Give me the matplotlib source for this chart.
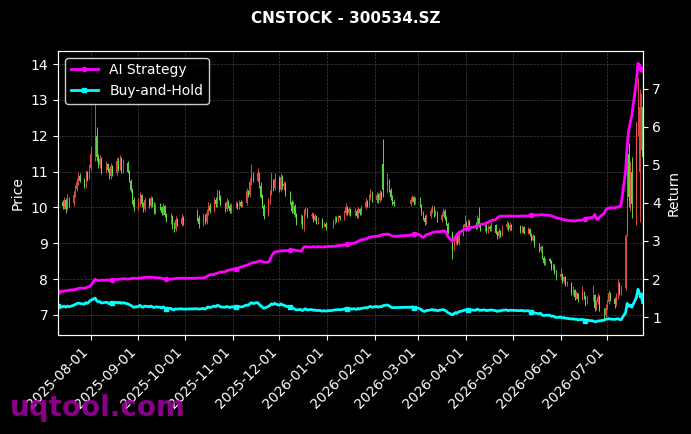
import numpy as np
import pandas as pd
import matplotlib
matplotlib.use('Agg')
import matplotlib.pyplot as plt
import matplotlib.dates as mdates

title = "CNSTOCK - 300534.SZ"

# exchange closures inside the window
closed_days = ['2025-10-01', '2025-10-02', '2025-10-03', '2025-10-06', '2025-10-07', '2025-10-08',
               '2026-01-01', '2026-01-02',
               '2026-02-16', '2026-02-17', '2026-02-18', '2026-02-19', '2026-02-20', '2026-02-23',
               '2026-04-06', '2026-05-01', '2026-05-04', '2026-05-05', '2026-06-19']

dates = pd.bdate_range('2025-07-11', '2026-07-24')
dates = dates[~dates.isin(pd.to_datetime(closed_days))]

opens = [
    10.05, 10.15, 10.02, 10.20, 9.98, 10.25, 10.12, 10.33, 10.52, 10.68, 10.88, 10.76, 10.62, 10.96, 10.82,  # 2025-07
    11.10, 11.45, 12.00, 11.40, 11.18, 11.35, 11.00, 11.20, 11.05, 10.88, 11.15, 10.95, 11.30, 11.10, 11.35, 11.00, 11.25, 11.00, 10.75, 10.50, 10.20,  # 08
    10.00, 10.15, 10.35, 10.10, 9.95, 10.20, 10.05, 10.25, 10.10, 9.90, 10.05, 10.00, 9.85, 10.05, 9.80, 9.65, 9.75, 9.52, 9.40, 9.65, 9.55, 9.70,  # 09
    9.85, 9.70, 9.52, 9.75, 9.60, 9.85, 10.05, 9.92, 10.20, 10.10, 10.40, 10.30, 10.10, 9.95, 10.15, 10.05, 9.90,  # 10
    10.02, 10.10, 10.00, 10.15, 10.05, 10.12, 10.45, 10.35, 10.70, 10.90, 10.75, 10.95, 10.60, 10.30, 10.05, 9.78, 10.15, 10.40, 10.70, 10.55,  # 11
    10.80, 10.50, 10.85, 10.60, 10.65, 10.40, 10.15, 9.90, 10.05, 9.80, 9.60, 9.75, 9.50, 9.85, 9.95, 9.75, 9.80, 9.65, 9.75, 9.60, 9.65, 9.50, 9.55,  # 12
    9.45, 9.60, 9.70, 9.65, 9.75, 9.70, 9.85, 10.00, 9.85, 9.95, 9.80, 9.90, 9.75, 9.95, 9.85, 10.00, 10.15, 10.05, 10.30, 10.40,  # 2026-01
    10.20, 10.35, 10.20, 10.40, 11.20, 10.50, 10.75, 10.50, 10.30, 10.15, 10.10, 10.20, 10.30, 10.15,  # 02
    10.25, 10.05, 9.85, 9.70, 9.60, 9.75, 9.90, 10.00, 9.80, 9.85, 9.65, 9.80, 9.90, 9.70, 9.55, 9.30, 8.85, 9.05, 9.20, 9.00, 9.25, 9.45,  # 03
    9.55, 9.40, 9.60, 9.50, 9.45, 9.70, 9.50, 9.40, 9.50, 9.35, 9.45, 9.40, 9.50, 9.30, 9.20, 9.35, 9.25, 9.45, 9.55, 9.40, 9.50,  # 04
    9.45, 9.35, 9.45, 9.30, 9.40, 9.25, 9.10, 9.20, 8.95, 8.80, 8.90, 8.60, 8.45, 8.55, 8.50, 8.30, 8.40, 8.20,  # 05
    8.05, 8.15, 7.95, 8.05, 7.85, 7.90, 7.60, 7.70, 7.50, 7.60, 7.45, 7.65, 7.50, 7.35, 7.45, 7.55, 7.20, 7.35, 7.50, 7.15, 7.00,  # 06
    7.20, 7.35, 7.60, 7.45, 7.30, 7.50, 7.90, 7.60, 7.75, 9.30, 11.50, 10.20, 11.00, 10.20, 12.20, 11.00, 12.50, 12.80,  # 07
]
highs = [
    10.28, 10.22, 10.30, 10.25, 10.38, 10.30, 10.45, 10.62, 10.82, 11.00, 10.95, 10.82, 11.05, 11.02, 11.22,
    11.70, 12.95, 12.25, 11.50, 11.45, 11.40, 11.30, 11.25, 11.10, 11.25, 11.18, 11.42, 11.38, 11.45, 11.40, 11.35, 11.30, 11.05, 10.80, 10.55, 10.28,
    10.25, 10.42, 10.38, 10.15, 10.28, 10.25, 10.32, 10.28, 10.15, 10.12, 10.12, 10.05, 10.12, 10.08, 9.85, 9.85, 9.80, 9.58, 9.75, 9.70, 9.82, 9.75,
    9.95, 9.78, 9.85, 9.82, 9.95, 10.15, 10.12, 10.30, 10.28, 10.52, 10.48, 10.35, 10.15, 10.25, 10.20, 10.10, 10.12,
    10.18, 10.15, 10.22, 10.20, 10.18, 10.55, 10.50, 10.82, 11.20, 10.98, 11.10, 11.00, 10.70, 10.38, 10.10, 10.25, 10.50, 11.00, 10.78, 10.95,
    10.88, 10.95, 10.90, 10.75, 10.70, 10.45, 10.22, 10.18, 10.10, 9.85, 9.82, 9.80, 9.95, 10.02, 9.98, 9.88, 9.85, 9.82, 9.80, 9.72, 9.70, 9.60, 9.60,
    9.68, 9.75, 9.75, 9.80, 9.80, 9.92, 10.12, 10.05, 10.02, 9.98, 9.98, 9.95, 10.02, 9.98, 10.08, 10.25, 10.20, 10.38, 10.52, 10.45,
    10.42, 10.40, 10.48, 10.45, 11.90, 10.95, 10.80, 10.55, 10.35, 10.20, 10.28, 10.35, 10.32, 10.30,
    10.30, 10.10, 9.90, 9.78, 9.82, 9.98, 10.08, 10.05, 9.92, 9.90, 9.88, 9.98, 9.95, 9.75, 9.60, 9.35, 9.15, 9.30, 9.25, 9.32, 9.55, 9.80,
    9.62, 9.68, 9.65, 9.58, 9.78, 10.00, 9.55, 9.58, 9.55, 9.52, 9.50, 9.58, 9.55, 9.35, 9.42, 9.38, 9.52, 9.62, 9.60, 9.58, 9.55,
    9.52, 9.50, 9.48, 9.45, 9.42, 9.28, 9.25, 9.22, 9.00, 8.95, 8.92, 8.65, 8.60, 8.60, 8.52, 8.45, 8.42, 8.25,
    8.30, 8.18, 8.10, 8.08, 7.95, 7.92, 7.80, 7.72, 7.68, 7.62, 7.80, 7.68, 7.55, 7.52, 7.85, 7.58, 7.42, 7.60, 7.55, 7.20, 7.30,
    7.45, 7.70, 7.65, 7.50, 7.60, 8.00, 7.92, 7.85, 9.25, 11.55, 11.80, 11.30, 11.40, 12.40, 13.60, 13.30, 13.20, 12.90,
]
lows = [
    9.98, 9.95, 9.95, 9.85, 9.92, 10.02, 10.05, 10.28, 10.45, 10.62, 10.70, 10.55, 10.55, 10.75, 10.78,
    11.05, 11.30, 11.30, 11.10, 11.10, 10.92, 10.95, 10.98, 10.78, 10.80, 10.88, 10.90, 11.02, 11.05, 10.95, 10.95, 10.95, 10.70, 10.42, 10.10, 9.90,
    9.92, 10.05, 10.02, 9.88, 9.90, 9.98, 9.98, 10.02, 9.82, 9.82, 9.92, 9.78, 9.80, 9.72, 9.58, 9.55, 9.40, 9.32, 9.35, 9.48, 9.48, 9.52,
    9.62, 9.42, 9.48, 9.55, 9.55, 9.80, 9.85, 9.88, 10.02, 10.02, 10.22, 10.05, 9.88, 9.90, 9.98, 9.85, 9.85,
    9.98, 9.95, 9.95, 10.00, 10.00, 10.08, 10.28, 10.30, 10.62, 10.70, 10.70, 10.55, 10.25, 9.98, 9.68, 9.75, 10.10, 10.35, 10.45, 10.48,
    10.42, 10.45, 10.52, 10.50, 10.32, 10.10, 9.85, 9.85, 9.72, 9.52, 9.55, 9.40, 9.35, 9.80, 9.70, 9.70, 9.58, 9.62, 9.55, 9.55, 9.42, 9.45, 9.38,
    9.42, 9.55, 9.60, 9.60, 9.65, 9.65, 9.80, 9.80, 9.80, 9.75, 9.75, 9.70, 9.70, 9.80, 9.80, 9.95, 10.00, 10.00, 10.22, 10.15,
    10.12, 10.12, 10.15, 10.22, 10.30, 10.42, 10.42, 10.22, 10.08, 10.05, 10.05, 10.15, 10.08, 10.10,
    10.00, 9.80, 9.65, 9.50, 9.55, 9.70, 9.85, 9.72, 9.75, 9.58, 9.60, 9.75, 9.65, 9.50, 9.25, 8.55, 8.80, 8.98, 8.95, 8.95, 9.20, 9.40,
    9.35, 9.35, 9.45, 9.40, 9.40, 9.45, 9.35, 9.35, 9.30, 9.30, 9.35, 9.35, 9.25, 9.12, 9.15, 9.18, 9.20, 9.40, 9.35, 9.35, 9.38,
    9.30, 9.30, 9.25, 9.25, 9.20, 9.05, 9.05, 8.90, 8.75, 8.75, 8.55, 8.40, 8.40, 8.45, 8.25, 8.25, 8.15, 7.98,
    8.00, 7.90, 7.90, 7.80, 7.80, 7.55, 7.55, 7.42, 7.45, 7.35, 7.42, 7.45, 7.25, 7.30, 7.40, 7.10, 7.15, 7.30, 7.10, 6.90, 6.95,
    7.15, 7.30, 7.40, 7.20, 7.25, 7.45, 7.55, 7.55, 7.70, 9.20, 10.00, 9.90, 9.70, 9.50, 12.00, 9.60, 11.60, 11.00,
]
closes = [
    10.15, 10.05, 10.20, 9.95, 10.25, 10.10, 10.35, 10.50, 10.70, 10.85, 10.75, 10.60, 10.95, 10.80, 11.10,
    11.50, 12.00, 11.40, 11.20, 11.35, 11.00, 11.20, 11.05, 10.85, 11.15, 10.95, 11.30, 11.10, 11.35, 11.00, 11.25, 11.00, 10.75, 10.50, 10.20, 10.00,
    10.15, 10.35, 10.10, 9.95, 10.20, 10.05, 10.25, 10.10, 9.90, 10.05, 10.00, 9.85, 10.05, 9.80, 9.65, 9.75, 9.50, 9.40, 9.65, 9.55, 9.70, 9.60,
    9.70, 9.55, 9.75, 9.60, 9.85, 10.05, 9.90, 10.20, 10.10, 10.40, 10.30, 10.10, 9.95, 10.15, 10.05, 9.90, 10.05,
    10.10, 10.00, 10.15, 10.05, 10.10, 10.45, 10.35, 10.70, 10.90, 10.75, 10.95, 10.60, 10.30, 10.05, 9.75, 10.15, 10.40, 10.70, 10.55, 10.80,
    10.50, 10.85, 10.60, 10.65, 10.40, 10.15, 9.90, 10.05, 9.80, 9.60, 9.75, 9.50, 9.85, 9.95, 9.75, 9.80, 9.65, 9.75, 9.60, 9.65, 9.50, 9.55, 9.45,
    9.60, 9.70, 9.65, 9.75, 9.70, 9.85, 10.00, 9.85, 9.95, 9.80, 9.90, 9.75, 9.95, 9.85, 10.00, 10.15, 10.05, 10.30, 10.40, 10.20,
    10.35, 10.20, 10.40, 10.30, 10.50, 10.75, 10.50, 10.30, 10.15, 10.10, 10.20, 10.30, 10.15, 10.25,
    10.05, 9.85, 9.70, 9.60, 9.75, 9.90, 10.00, 9.80, 9.85, 9.65, 9.80, 9.90, 9.70, 9.55, 9.30, 8.85, 9.05, 9.20, 9.00, 9.25, 9.45, 9.55,
    9.40, 9.60, 9.50, 9.45, 9.70, 9.50, 9.40, 9.50, 9.35, 9.45, 9.40, 9.50, 9.30, 9.20, 9.35, 9.25, 9.45, 9.55, 9.40, 9.50, 9.45,
    9.35, 9.45, 9.30, 9.40, 9.25, 9.10, 9.20, 8.95, 8.80, 8.90, 8.60, 8.45, 8.55, 8.50, 8.30, 8.40, 8.20, 8.05,
    8.15, 7.95, 8.05, 7.85, 7.90, 7.60, 7.70, 7.50, 7.60, 7.45, 7.65, 7.50, 7.35, 7.45, 7.55, 7.20, 7.35, 7.50, 7.15, 7.00, 7.20,
    7.35, 7.60, 7.45, 7.30, 7.50, 7.90, 7.60, 7.75, 9.20, 11.00, 10.30, 11.00, 10.10, 12.20, 13.40, 12.80, 12.90, 11.40,
]

# cumulative return curves (right axis)
ai_return = [
    1.67, 1.68, 1.69, 1.69, 1.70, 1.71, 1.72, 1.72, 1.74, 1.75, 1.76, 1.76, 1.77, 1.79, 1.80,
    1.82, 2.00, 1.97, 1.96, 1.96, 1.97, 1.97, 1.98, 1.97, 1.98, 1.98, 1.99, 1.99, 2.00, 2.00, 2.01, 2.00, 2.00, 2.01, 2.02, 2.02,
    2.02, 2.03, 2.03, 2.04, 2.04, 2.05, 2.04, 2.05, 2.04, 2.03, 2.03, 2.02, 2.01, 2.00, 1.99, 2.00, 2.00, 2.01, 2.01, 2.02, 2.02, 2.02,
    2.02, 2.03, 2.03, 2.04, 2.06, 2.09, 2.11, 2.12, 2.14, 2.15, 2.17, 2.18, 2.19, 2.21, 2.23, 2.24, 2.25,
    2.27, 2.28, 2.30, 2.31, 2.33, 2.36, 2.38, 2.40, 2.42, 2.43, 2.45, 2.47, 2.47, 2.46, 2.44, 2.44, 2.50, 2.60, 2.66, 2.71,
    2.73, 2.74, 2.74, 2.75, 2.74, 2.75, 2.76, 2.77, 2.76, 2.75, 2.73, 2.78, 2.84, 2.85, 2.84, 2.84, 2.85, 2.84, 2.84, 2.85, 2.84, 2.84, 2.85,
    2.86, 2.86, 2.87, 2.88, 2.88, 2.89, 2.90, 2.91, 2.92, 2.93, 2.95, 2.97, 2.99, 3.01, 3.03, 3.05, 3.07, 3.09, 3.10, 3.11,
    3.12, 3.13, 3.14, 3.15, 3.17, 3.18, 3.17, 3.15, 3.13, 3.12, 3.15, 3.17, 3.18, 3.20,
    3.16, 3.12, 3.09, 3.12, 3.16, 3.20, 3.22, 3.23, 3.24, 3.24, 3.25, 3.26, 3.26, 3.22, 3.12, 2.99, 3.05, 3.11, 3.17, 3.22, 3.28, 3.31,
    3.33, 3.34, 3.35, 3.37, 3.39, 3.41, 3.43, 3.45, 3.47, 3.49, 3.51, 3.53, 3.56, 3.60, 3.63, 3.65, 3.65, 3.65, 3.65, 3.66, 3.65,
    3.65, 3.66, 3.65, 3.66, 3.66, 3.67, 3.67, 3.68, 3.68, 3.69, 3.69, 3.68, 3.68, 3.67, 3.66, 3.64, 3.63, 3.61,
    3.58, 3.57, 3.56, 3.55, 3.54, 3.53, 3.53, 3.52, 3.53, 3.54, 3.55, 3.56, 3.58, 3.60, 3.62, 3.70, 3.58, 3.56, 3.62, 3.72, 3.80,
    3.85, 3.86, 3.87, 3.87, 3.88, 3.89, 3.90, 3.92, 4.85, 5.50, 5.90, 6.10, 6.30, 7.20, 7.66, 7.62, 7.52, 7.45,
]
bh_return = [
    1.28, 1.27, 1.29, 1.26, 1.29, 1.27, 1.31, 1.33, 1.35, 1.37, 1.36, 1.34, 1.38, 1.36, 1.40,
    1.44, 1.50, 1.43, 1.40, 1.41, 1.37, 1.39, 1.38, 1.35, 1.38, 1.36, 1.39, 1.37, 1.39, 1.36, 1.38, 1.35, 1.33, 1.31, 1.28, 1.26,
    1.28, 1.31, 1.27, 1.26, 1.29, 1.27, 1.29, 1.27, 1.25, 1.27, 1.26, 1.24, 1.27, 1.24, 1.22, 1.23, 1.20, 1.19, 1.22, 1.21, 1.22, 1.21,
    1.22, 1.21, 1.23, 1.21, 1.24, 1.27, 1.25, 1.29, 1.27, 1.31, 1.30, 1.27, 1.26, 1.28, 1.27, 1.25, 1.27,
    1.27, 1.26, 1.28, 1.27, 1.27, 1.32, 1.31, 1.35, 1.38, 1.36, 1.38, 1.34, 1.30, 1.27, 1.23, 1.28, 1.31, 1.35, 1.33, 1.36,
    1.31, 1.35, 1.32, 1.32, 1.29, 1.26, 1.23, 1.24, 1.21, 1.19, 1.20, 1.17, 1.20, 1.22, 1.19, 1.20, 1.18, 1.19, 1.17, 1.18, 1.16, 1.17, 1.16,
    1.18, 1.19, 1.19, 1.20, 1.19, 1.21, 1.23, 1.21, 1.22, 1.21, 1.22, 1.20, 1.23, 1.21, 1.23, 1.25, 1.24, 1.27, 1.28, 1.26,
    1.28, 1.26, 1.28, 1.27, 1.30, 1.32, 1.30, 1.27, 1.25, 1.25, 1.26, 1.27, 1.25, 1.26,
    1.22, 1.19, 1.16, 1.15, 1.17, 1.19, 1.20, 1.18, 1.19, 1.17, 1.19, 1.20, 1.18, 1.16, 1.12, 1.06, 1.09, 1.12, 1.10, 1.14, 1.17, 1.19,
    1.18, 1.20, 1.19, 1.18, 1.21, 1.19, 1.18, 1.19, 1.17, 1.18, 1.18, 1.19, 1.17, 1.15, 1.17, 1.16, 1.18, 1.19, 1.17, 1.18, 1.18,
    1.17, 1.18, 1.16, 1.17, 1.15, 1.13, 1.14, 1.11, 1.09, 1.10, 1.06, 1.04, 1.05, 1.05, 1.02, 1.03, 1.01, 0.99,
    1.00, 0.98, 0.99, 0.97, 0.97, 0.95, 0.96, 0.94, 0.95, 0.93, 0.94, 0.93, 0.91, 0.92, 0.90, 0.88, 0.88, 0.90, 0.90, 0.92, 0.94,
    0.95, 0.96, 0.95, 0.94, 0.95, 0.96, 0.94, 0.93, 1.12, 1.36, 1.28, 1.32, 1.26, 1.52, 1.73, 1.62, 1.58, 1.38,
]

df = pd.DataFrame({'open': opens, 'high': highs, 'low': lows, 'close': closes,
                   'ai': ai_return, 'bh': bh_return}, index=dates)

plt.style.use('dark_background')
fig, ax = plt.subplots(figsize=(6.91, 4.34), dpi=100)
fig.subplots_adjust(left=0.084, right=0.93, top=0.883, bottom=0.228)

# candles: red up, green down
up = df['close'] >= df['open']
colors = np.where(up, '#f05050', '#66ee44')
ax.vlines(df.index, df['low'], df['high'], colors=colors, linewidth=0.7, alpha=0.9)
body = (df['close'] - df['open']).abs().clip(lower=0.02)
ax.bar(df.index, body, bottom=np.minimum(df['open'], df['close']), width=0.45,
       color=colors, alpha=0.9)

ax.set_ylim(6.44, 14.37)
ax.set_xlim(df.index[0], df.index[-1])
ax.set_ylabel('Price', fontsize=10)
ax.grid(True, color='gray', linestyle='--', linewidth=0.5, alpha=0.5)
ax.xaxis.set_major_locator(mdates.MonthLocator())
ax.xaxis.set_major_formatter(mdates.DateFormatter('%Y-%m-%d'))
plt.setp(ax.get_xticklabels(), rotation=45, ha='right')

ax2 = ax.twinx()
ax2.plot(df.index, df['ai'], color='#ff00ff', linewidth=2, marker='o', markersize=3,
         markevery=25, label='AI Strategy')
ax2.plot(df.index, df['bh'], color='#00ffff', linewidth=2, marker='s', markersize=3,
         markevery=25, label='Buy-and-Hold')
ax2.set_ylim(0.53, 7.99)
ax2.set_ylabel('Return', fontsize=10)
ax2.legend(loc='upper left', fontsize=10, facecolor='black', edgecolor='white')

fig.suptitle(title, fontsize=11, fontweight='bold', y=0.975)
fig.text(0.014, 0.028, 'uqtool.com', fontsize=20, fontweight='bold',
         color='#a000a0', alpha=0.85, va='bottom')

fig.savefig('out.png', dpi=100)
